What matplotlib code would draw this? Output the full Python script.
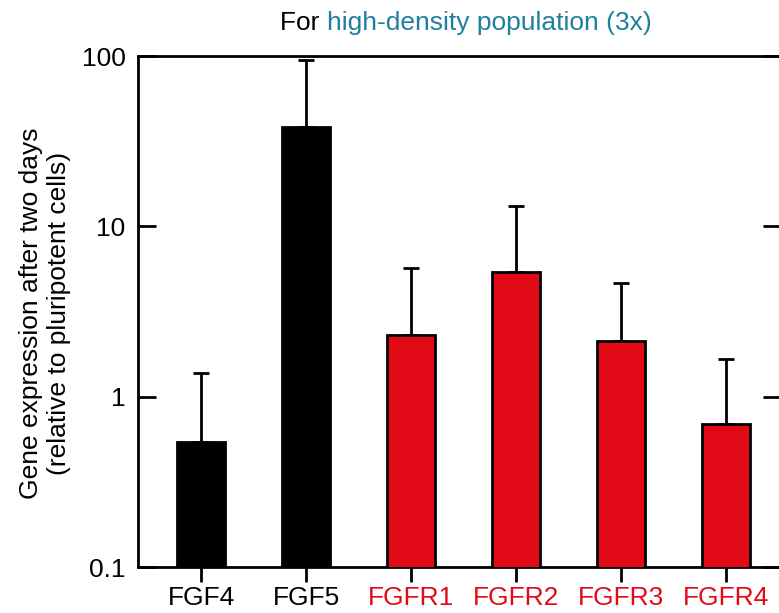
import matplotlib.pyplot as plt
from matplotlib.ticker import FixedLocator, NullLocator

plt.rcParams['font.family'] = ['Liberation Sans', 'DejaVu Sans']

genes = ['FGF4', 'FGF5', 'FGFR1', 'FGFR2', 'FGFR3', 'FGFR4']
means = [0.545, 38.4, 2.31, 5.38, 2.13, 0.69]
upper = [1.37, 95.0, 5.68, 13.2, 4.66, 1.67]
groupColor = ['black', 'black', '#e20a16', '#e20a16', '#e20a16', '#e20a16']
yTicks = [0.1, 1, 10, 100]
yTickLabels = ['0.1', '1', '10', '100']

teal = '#1f7f9f'
fontSize = 19

fig = plt.figure(figsize=(7.79, 6.13), dpi=100)
ax = fig.add_axes([0.1772, 0.0750, 0.8254, 0.8336])

xPos = list(range(len(genes)))
ax.bar(xPos, means, width=0.45, bottom=0.0001, color=groupColor,
       edgecolor='black', linewidth=2, zorder=3)

errUp = [u - m for u, m in zip(upper, means)]
ax.errorbar(xPos, means, yerr=[[0] * len(means), errUp], fmt='none',
            ecolor='black', elinewidth=2, capsize=6, capthick=2, zorder=2)

ax.set_yscale('log')
ax.set_ylim(0.1, 100)
ax.set_xlim(-0.6, 5.524)
ax.yaxis.set_major_locator(FixedLocator(yTicks))
ax.yaxis.set_minor_locator(NullLocator())
ax.set_yticklabels(yTickLabels)

ax.set_xticks(xPos)
ax.set_xticklabels(genes)
for lbl, c in zip(ax.get_xticklabels(), groupColor):
    lbl.set_color(c)

ax.tick_params(axis='y', direction='in', left=True, right=True, length=13,
               width=2, pad=9, labelsize=fontSize)
ax.tick_params(axis='x', direction='out', length=11, width=2, pad=3,
               labelsize=fontSize)
for side in ['left', 'right', 'top', 'bottom']:
    ax.spines[side].set_linewidth(2)

fig.text(45 / 779, 1 - 313 / 613,
         'Gene expression after two days\n(relative to pluripotent cells)',
         rotation=90, ha='center', va='center', multialignment='center',
         fontsize=fontSize, linespacing=1.25)

# two-colour title
t1 = fig.text(280 / 779, 1 - 30 / 613, 'For ', color='black',
              fontsize=fontSize, va='baseline', ha='left')
ax.annotate('high-density population (3x)', xy=(1, 0), xycoords=t1,
            va='bottom', ha='left', color=teal, fontsize=fontSize,
            annotation_clip=False)

plt.savefig('out.png', dpi=100)
